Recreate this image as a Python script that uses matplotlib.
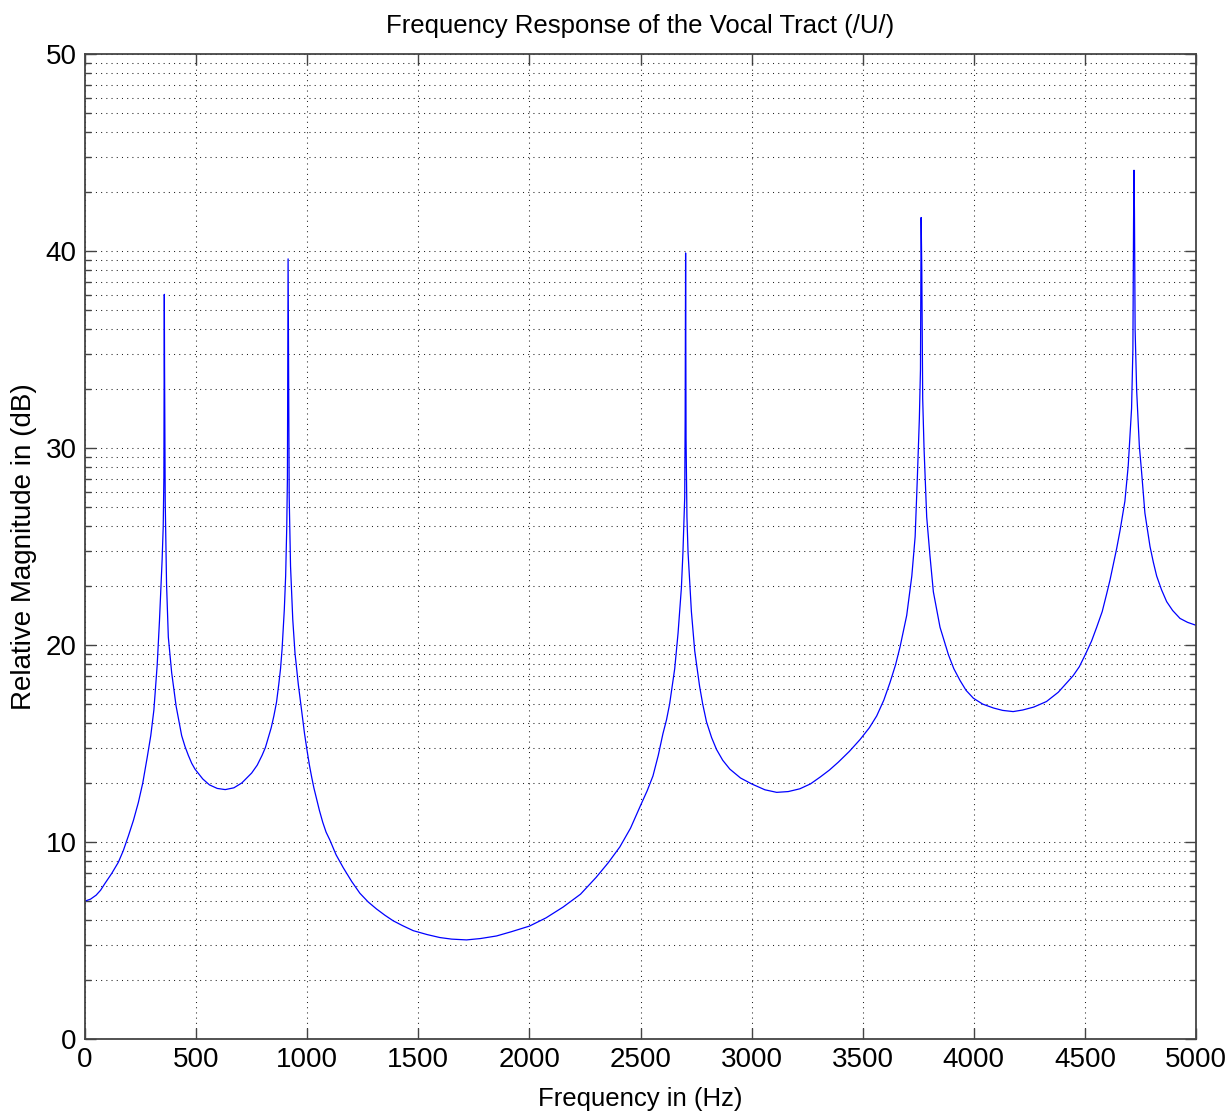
import numpy as np
import matplotlib
matplotlib.use('Agg')
import matplotlib.pyplot as plt

# values (Hz, dB)
freq = [0, 25, 50, 70, 90, 120, 150, 172, 195, 218, 240, 260, 280, 296, 310, 325, 335, 347,
        352, 355, 356, 357, 358, 361, 367, 375, 390, 410, 435, 450, 465, 480, 495, 530, 560,
        595, 631, 670, 706, 750, 775, 797, 812, 825, 838, 850, 862, 872, 880, 887, 897, 903,
        908, 911, 913, 914, 916, 919, 925, 935, 945, 960, 977, 988, 1000, 1010, 1020, 1030,
        1042, 1055, 1070, 1085, 1102, 1130, 1162, 1200, 1237, 1275, 1312, 1350, 1387, 1430,
        1477, 1540, 1597, 1650, 1717, 1780, 1852, 1920, 2000, 2075, 2152, 2230, 2300, 2355,
        2407, 2455, 2500, 2530, 2556, 2580, 2601, 2617, 2631, 2654, 2669, 2684, 2691, 2697,
        2699, 2701, 2703, 2705, 2709, 2714, 2729, 2744, 2766, 2780, 2797, 2820, 2842, 2870,
        2902, 2950, 3000, 3060, 3113, 3165, 3217, 3265, 3309, 3350, 3390, 3440, 3488, 3530,
        3563, 3595, 3623, 3648, 3668, 3698, 3721, 3736, 3746, 3755, 3760, 3763, 3766, 3770,
        3776, 3788, 3803, 3818, 3848, 3886, 3910, 3938, 3965, 3998, 4040, 4089, 4130, 4177,
        4220, 4270, 4327, 4380, 4447, 4475, 4500, 4530, 4553, 4578, 4598, 4613, 4628, 4643,
        4658, 4680, 4695, 4710, 4716, 4719, 4721, 4723, 4726, 4733, 4745, 4755, 4770, 4793,
        4808, 4823, 4845, 4868, 4895, 4928, 4962, 5000]
mag = [7.0, 7.1, 7.3, 7.55, 7.9, 8.4, 8.97, 9.55, 10.3, 11.1, 12.0, 13.0, 14.3, 15.4, 16.7,
       19.0, 21.2, 24.3, 26.0, 28.5, 34.0, 37.8, 34.2, 27.3, 23.1, 20.4, 18.6, 16.9, 15.4,
       14.85, 14.4, 14.0, 13.7, 13.2, 12.9, 12.72, 12.66, 12.75, 13.0, 13.5, 13.9, 14.4,
       14.8, 15.3, 15.8, 16.4, 17.1, 18.0, 18.8, 19.8, 21.8, 23.5, 26.0, 28.5, 35.5, 39.6,
       35.0, 27.5, 24.0, 21.3, 19.6, 18.0, 16.5, 15.5, 14.6, 13.9, 13.3, 12.75, 12.2, 11.6,
       11.0, 10.5, 10.1, 9.35, 8.7, 8.0, 7.4, 6.95, 6.6, 6.28, 6.0, 5.75, 5.5, 5.3, 5.15,
       5.07, 5.03, 5.1, 5.23, 5.45, 5.73, 6.15, 6.7, 7.35, 8.2, 8.95, 9.75, 10.7, 11.85,
       12.6, 13.35, 14.4, 15.5, 16.2, 17.0, 18.8, 20.6, 22.9, 24.7, 26.9, 27.5, 31.5, 39.9,
       30.5, 26.5, 24.7, 21.7, 19.7, 17.9, 17.0, 16.1, 15.3, 14.7, 14.15, 13.7, 13.25, 12.95,
       12.65, 12.52, 12.56, 12.7, 12.95, 13.3, 13.65, 14.05, 14.6, 15.2, 15.8, 16.4, 17.2,
       18.1, 19.0, 19.9, 21.5, 23.5, 25.5, 28.5, 31.5, 34.0, 41.7, 39.0, 32.5, 30.0, 26.5,
       24.5, 22.7, 20.9, 19.5, 18.8, 18.2, 17.7, 17.3, 17.0, 16.8, 16.68, 16.62, 16.7, 16.85,
       17.13, 17.6, 18.44, 18.9, 19.47, 20.2, 20.9, 21.7, 22.6, 23.3, 24.1, 24.9, 25.8, 27.3,
       29.1, 32.0, 35.0, 41.5, 44.1, 42.0, 36.0, 32.9, 30.1, 28.8, 26.7, 25.0, 24.2, 23.5,
       22.8, 22.2, 21.75, 21.35, 21.15, 21.0]

xticks = list(range(0, 5001, 500))
yticks = [0, 10, 20, 30, 40, 50]

plt.rcParams['font.family'] = ['Liberation Sans', 'DejaVu Sans']

fig = plt.figure(figsize=(12.27, 11.16), dpi=100)
ax = fig.add_axes([85/1227, 1 - 1039/1116, 1111/1227, 985/1116])

ax.plot(freq, mag, color='#0000ff', lw=0.9)

ax.set_xlim(0, 5000)
ax.set_ylim(0, 50)
ax.set_xticks(xticks)
ax.set_yticks(yticks)
# matlab style minor ticks: log spacing inside every decade of 10 dB
ymin = [d + 10*np.log10(m) for d in range(0, 50, 10) for m in range(2, 10)]
ax.set_yticks(ymin, minor=True)

ax.tick_params(which='both', direction='in', top=True, right=True, labelsize=20,
               color='#444444', width=1)
ax.tick_params(which='major', length=8, pad=6)
ax.tick_params(which='minor', length=4)

gs = dict(color='#222222', lw=0.75, linestyle=(0, (1, 4)))
ax.grid(True, which='major', axis='both', **gs)
ax.grid(True, which='minor', axis='y', **gs)

for s in ax.spines.values():
    s.set_color('#444444')
    s.set_linewidth(1.3)

ax.set_title('Frequency Response of the Vocal Tract (/U/)', fontsize=18.5, pad=15)
ax.set_xlabel('Frequency in (Hz)', fontsize=18.5, labelpad=10)
ax.set_ylabel('Relative Magnitude in (dB)', fontsize=20, labelpad=6)

plt.savefig('out.png', dpi=100)
